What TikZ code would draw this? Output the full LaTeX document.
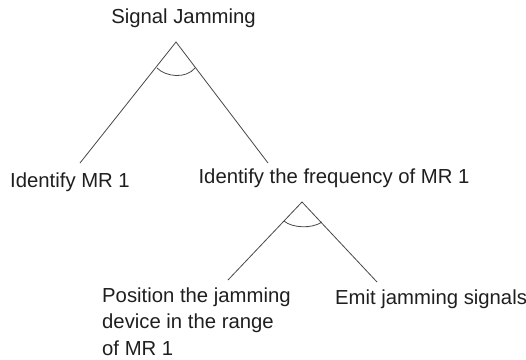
\documentclass[tikz,border=0pt]{standalone}
\usepackage{fontspec}
\setmainfont{Liberation Sans}
\begin{document}
\begin{tikzpicture}[x=1pt,y=-1pt,
  lbl/.style={inner sep=0pt, text=black!88, font=\fontsize{20.3}{26.5}\selectfont},
  ln/.style={line width=0.8pt, draw=black!72}]
\useasboundingbox[fill=white] (0,0) rectangle (526,359);
% labels
\node[lbl, anchor=base] (root) at (183.5,23) {Signal Jamming};
\node[lbl, anchor=base] (idmr) at (70,187) {Identify MR 1};
\node[lbl, anchor=base] (freq) at (334,183) {Identify the frequency of MR 1};
\node[lbl, anchor=base west, align=left] (pos) at (102,355) {Position the jamming\\device in the range\\of MR 1};
\node[lbl, anchor=base west] (emit) at (335,304) {Emit jamming signals};
% AND gate 1
\coordinate (a1) at (176,42);
\coordinate (a1l) at (80,163);
\coordinate (a1r) at (268,163);
\draw[ln] (a1l) -- (a1) -- (a1r);
\coordinate (c1l) at (157,68);
\coordinate (c1r) at (195,68);
\draw[ln] (c1l) .. controls (166,77) and (186,79) .. (c1r);
% AND gate 2
\coordinate (a2) at (302,202);
\coordinate (a2l) at (228,280);
\coordinate (a2r) at (377,282);
\draw[ln] (a2l) -- (a2) -- (a2r);
\coordinate (c2l) at (284,221);
\coordinate (c2r) at (322,222);
\draw[ln] (c2l) .. controls (292,228) and (312,229) .. (c2r);
\end{tikzpicture}
\end{document}
